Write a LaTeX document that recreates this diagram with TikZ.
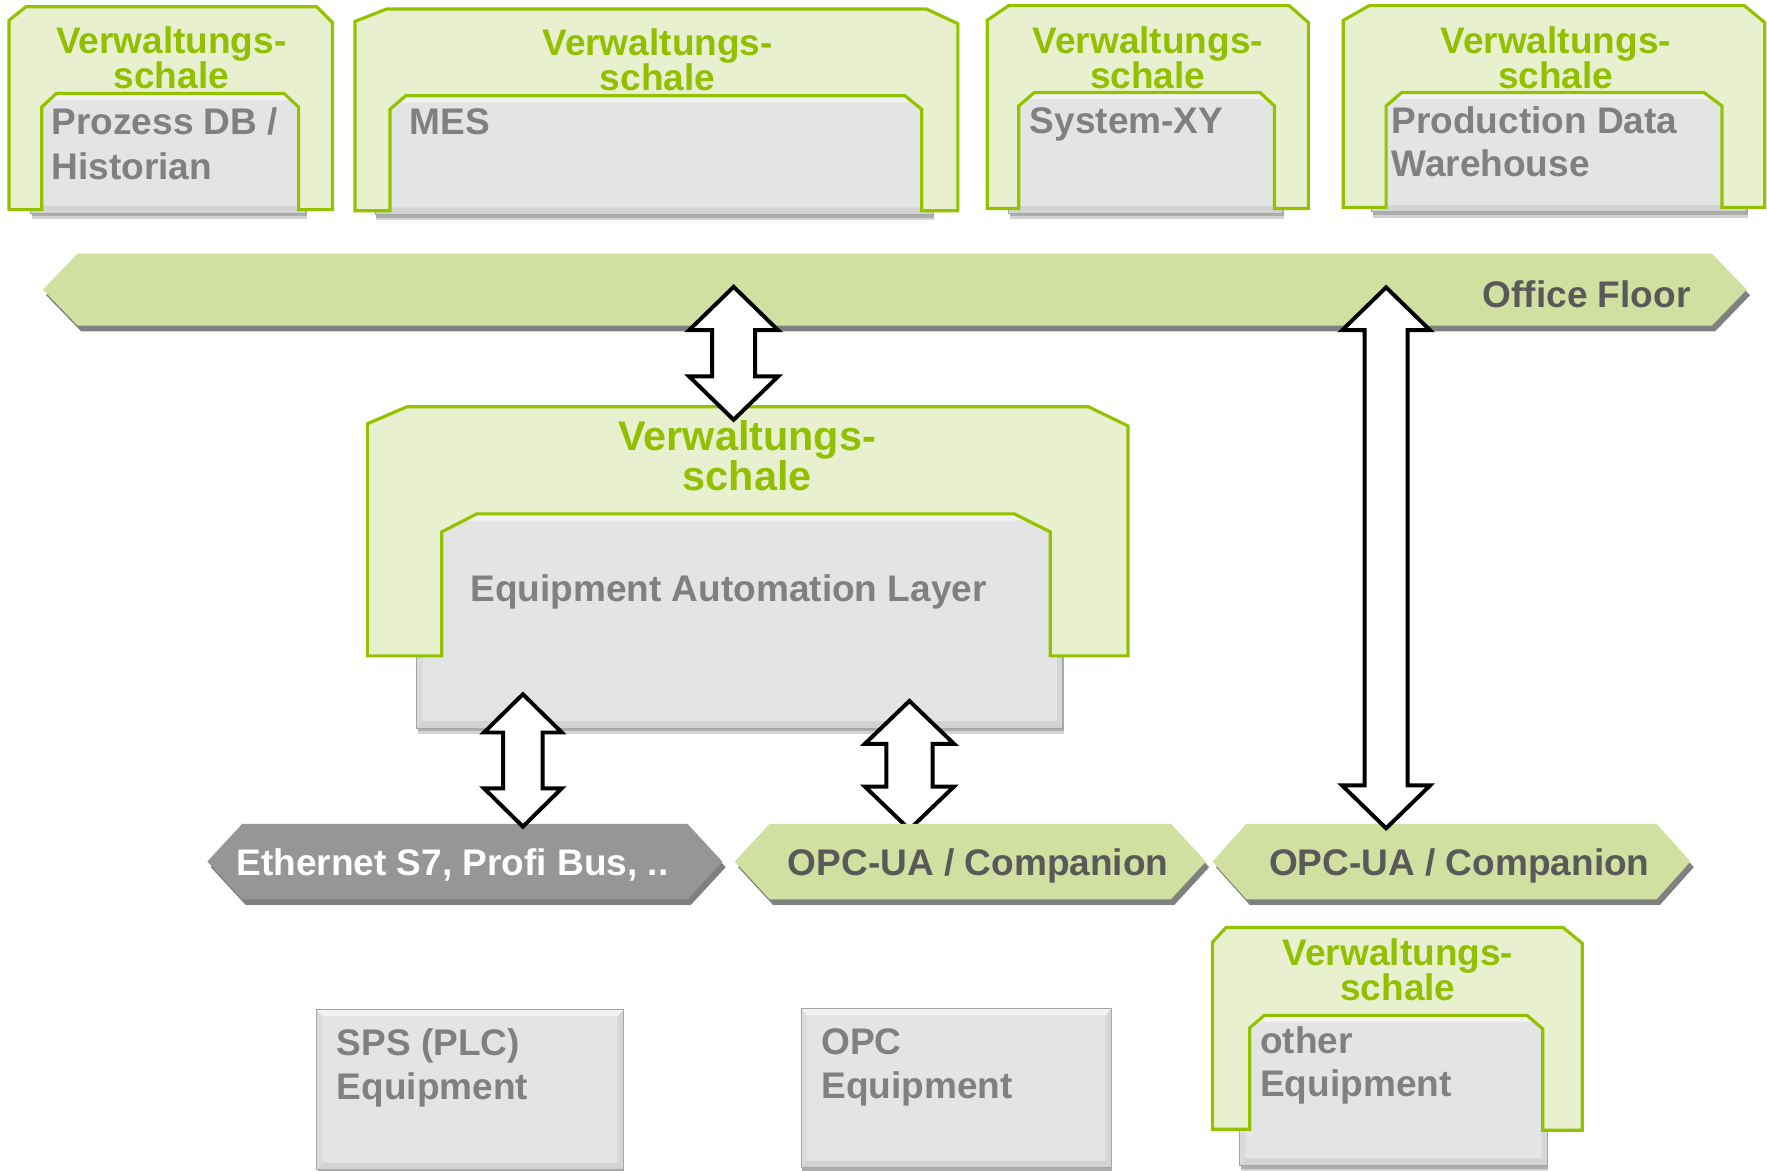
\documentclass[tikz,border=0pt]{standalone}
\usepackage{fontspec}
\setmainfont{Liberation Sans}
\usetikzlibrary{calc}

\definecolor{shellfill}{RGB}{232,240,207}
\definecolor{shellline}{RGB}{148,194,0}
\definecolor{shelltext}{RGB}{146,192,0}
\definecolor{boxfill}{RGB}{228,228,228}
\definecolor{boxtext}{RGB}{128,128,128}
\definecolor{floorfill}{RGB}{209,223,160}
\definecolor{busfill}{RGB}{150,150,150}
\definecolor{dropgrey}{RGB}{128,128,128}
\definecolor{darktext}{RGB}{89,89,89}

\tikzset{
  shellshape/.style={fill=shellfill, draw=shellline, line width=1.6pt, line join=miter},
  shelltitle/.style={text=shelltext, font={\fontsize{18.7}{18.7}\selectfont\bfseries}, inner sep=0pt, anchor=base},
  bigtitle/.style={shelltitle, font={\fontsize{20.9}{20.9}\selectfont\bfseries}},
  eqlabel/.style={text=boxtext, font={\fontsize{18.7}{18.7}\selectfont\bfseries}, inner sep=0pt, anchor=base west},
  barlabel/.style={text=darktext, font={\fontsize{18.7}{18.7}\selectfont\bfseries}, inner sep=0pt, anchor=base},
  dblarrow/.style={fill=white, draw=black, line width=2pt, line join=miter},
}

% grey bevelled equipment box: left, top, right, bottom
\newcommand{\eqbox}[4]{%
  \fill[dropgrey, opacity=0.35] (#1+1,#2+3) rectangle (#3+1,#4+5);
  \fill[dropgrey, opacity=0.45] (#1+1,#2+3) rectangle (#3+1,#4+3);
  \fill[boxfill] (#1,#2) rectangle (#3,#4);
  \fill[white, opacity=0.55] (#1,#2) -- (#3,#2) -- (#3-5,#2+6) -- (#1+5,#2+6) -- cycle;
  \fill[black, opacity=0.07] (#1,#4) -- (#3,#4) -- (#3-5,#4-6) -- (#1+5,#4-6) -- cycle;
  \fill[black, opacity=0.04] (#1,#2) -- (#1+5,#2+6) -- (#1+5,#4-6) -- (#1,#4) -- cycle;
  \fill[black, opacity=0.06] (#3,#2) -- (#3-5,#2+6) -- (#3-5,#4-6) -- (#3,#4) -- cycle;
  \draw[dropgrey!70, line width=0.5pt] (#1,#2) rectangle (#3,#4);
}

% pointed bar with drop shadow: left, right, top, bottom, point depth, fill
\newcommand{\hexbar}[6]{%
  \begin{scope}[shift={(3,5)}]
    \fill[dropgrey] (#1,{(#3+#4)/2}) -- (#1+#5,#3) -- (#2-#5,#3) -- (#2,{(#3+#4)/2})
      -- (#2-#5,#4) -- (#1+#5,#4) -- cycle;
  \end{scope}
  \fill[#6] (#1,{(#3+#4)/2}) -- (#1+#5,#3) -- (#2-#5,#3) -- (#2,{(#3+#4)/2})
      -- (#2-#5,#4) -- (#1+#5,#4) -- cycle;
}

% vertical double arrow between two named points:
% top, bottom, shaft half-width, head half-width, head length
\newcommand{\updown}[5]{%
  \draw[dblarrow] (#1) -- ($(#1)+(#4,#5)$) -- ($(#1)+(#3,#5)$) -- ($(#2)+(#3,-#5)$)
    -- ($(#2)+(#4,-#5)$) -- (#2) -- ($(#2)+(-#4,-#5)$) -- ($(#2)+(-#3,-#5)$)
    -- ($(#1)+(-#3,#5)$) -- ($(#1)+(-#4,#5)$) -- cycle;
}

\begin{document}
\begin{tikzpicture}[x=0.02cm, y=-0.02cm]
\useasboundingbox (0,0) rectangle (1568,1039);

% ---------- office floor ----------
\hexbar{38}{1550}{225}{289}{31}{floorfill}
\node[barlabel, anchor=base east] (office) at (1500.5,272.8) {Office Floor};

% ---------- top row of administration shells ----------
% Prozess DB / Historian
\eqbox{27}{83}{271}{189}
\draw[shellshape] (8,186) -- (8,18) -- (23,6) -- (281,6) -- (295,20) -- (295,186) -- (265,186)
  -- (265,95) -- (252,83) -- (50,83) -- (37,95) -- (37,186) -- cycle;
\node[shelltitle] (s1a) at (152,47.5) {Verwaltungs-};
\node[shelltitle] (s1b) at (152,78.5) {schale};
\node[eqlabel] (db1) at (45.5,119.5) {Prozess DB /};
\node[eqlabel] (db2) at (45.5,159.5) {Historian};

% MES
\eqbox{333}{85}{828}{190}
\draw[shellshape] (315,187) -- (315,19) -- (343,8) -- (822,8) -- (850,21) -- (850,187) -- (818,187)
  -- (818,97) -- (803,85) -- (360,85) -- (346,97) -- (346,187) -- cycle;
\node[shelltitle] (s2a) at (583.5,49.5) {Verwaltungs-};
\node[shelltitle] (s2b) at (583.5,80.5) {schale};
\node[eqlabel] (mes) at (363,119.5) {MES};

% System-XY
\eqbox{895}{82}{1138}{189}
\draw[shellshape] (876,185) -- (876,18) -- (895,5) -- (1144,5) -- (1161,20) -- (1161,185) -- (1131,185)
  -- (1131,94) -- (1118,82) -- (918,82) -- (904,94) -- (904,185) -- cycle;
\node[shelltitle] (s3a) at (1018.5,47.5) {Verwaltungs-};
\node[shelltitle] (s3b) at (1018.5,78.5) {schale};
\node[eqlabel] (sxy) at (913.5,118.5) {System-XY};

% Production Data Warehouse
\eqbox{1217}{82}{1550}{188}
\draw[shellshape] (1192,184) -- (1192,18) -- (1215,5) -- (1548,5) -- (1566,20) -- (1566,184) -- (1528,184)
  -- (1528,94) -- (1512,82) -- (1244,82) -- (1230,94) -- (1230,184) -- cycle;
\node[shelltitle] (s4a) at (1380.5,47.5) {Verwaltungs-};
\node[shelltitle] (s4b) at (1380.5,78.5) {schale};
\node[eqlabel] (pdw1) at (1234.5,118.5) {Production Data};
\node[eqlabel] (pdw2) at (1234.5,157) {Warehouse};

% ---------- equipment automation layer ----------
\eqbox{370}{456}{943}{646}
\draw[shellshape] (326,582) -- (326,376) -- (361,361) -- (966,361) -- (1001,378) -- (1001,582) -- (932,582)
  -- (932,472) -- (900,456) -- (423,456) -- (392,472) -- (392,582) -- cycle;
\node[bigtitle] (s5a) at (663,400) {Verwaltungs-};
\node[bigtitle] (s5b) at (663,435.5) {schale};
\node[eqlabel] (eal) at (417,534) {Equipment Automation Layer};

% ---------- field buses ----------
\hexbar{184}{641}{731}{798}{31}{busfill}
\node[barlabel, text=white] (bus) at (401.5,776.5) {Ethernet S7, Profi Bus, ..};

\hexbar{1076}{1500}{731}{798}{30}{floorfill}
\node[barlabel] (opc2) at (1295,776.5) {OPC-UA / Companion};

% links between the layers
\coordinate (cTop) at (807,622);
\coordinate (cBot) at (807,736);
\updown{cTop}{cBot}{20.5}{39.5}{38}

\hexbar{652}{1070}{731}{798}{31}{floorfill}
\node[barlabel] (opc1) at (868,777) {OPC-UA / Companion};

\coordinate (aTop) at (651,254.5);
\coordinate (aBot) at (651,372.5);
\updown{aTop}{aBot}{19}{39.5}{38.5}

\coordinate (bTop) at (464,616);
\coordinate (bBot) at (464,733.5);
\updown{bTop}{bBot}{17.5}{34.5}{34}

\coordinate (dTop) at (1230,255);
\coordinate (dBot) at (1230,735);
\updown{dTop}{dBot}{19}{39}{38}

% ---------- field equipment ----------
\eqbox{281}{896}{553}{1038}
\node[eqlabel] (sps1) at (298.5,937) {SPS (PLC)};
\node[eqlabel] (sps2) at (298.5,976) {Equipment};

\eqbox{711}{895}{986}{1036}
\node[eqlabel] (opce1) at (728.5,936) {OPC};
\node[eqlabel] (opce2) at (728.5,974.5) {Equipment};

\eqbox{1100}{901}{1373}{1034}
\draw[shellshape] (1076,1002) -- (1076,836) -- (1088,823) -- (1387,823) -- (1404,837) -- (1404,1003) -- (1369,1003)
  -- (1369,913) -- (1355,901) -- (1122,901) -- (1109,912) -- (1109,1002) -- cycle;
\node[shelltitle] (s6a) at (1240.5,856.5) {Verwaltungs-};
\node[shelltitle] (s6b) at (1240.5,887.5) {schale};
\node[eqlabel] (oth1) at (1118,934.5) {other};
\node[eqlabel] (oth2) at (1118,973) {Equipment};
\end{tikzpicture}
\end{document}
